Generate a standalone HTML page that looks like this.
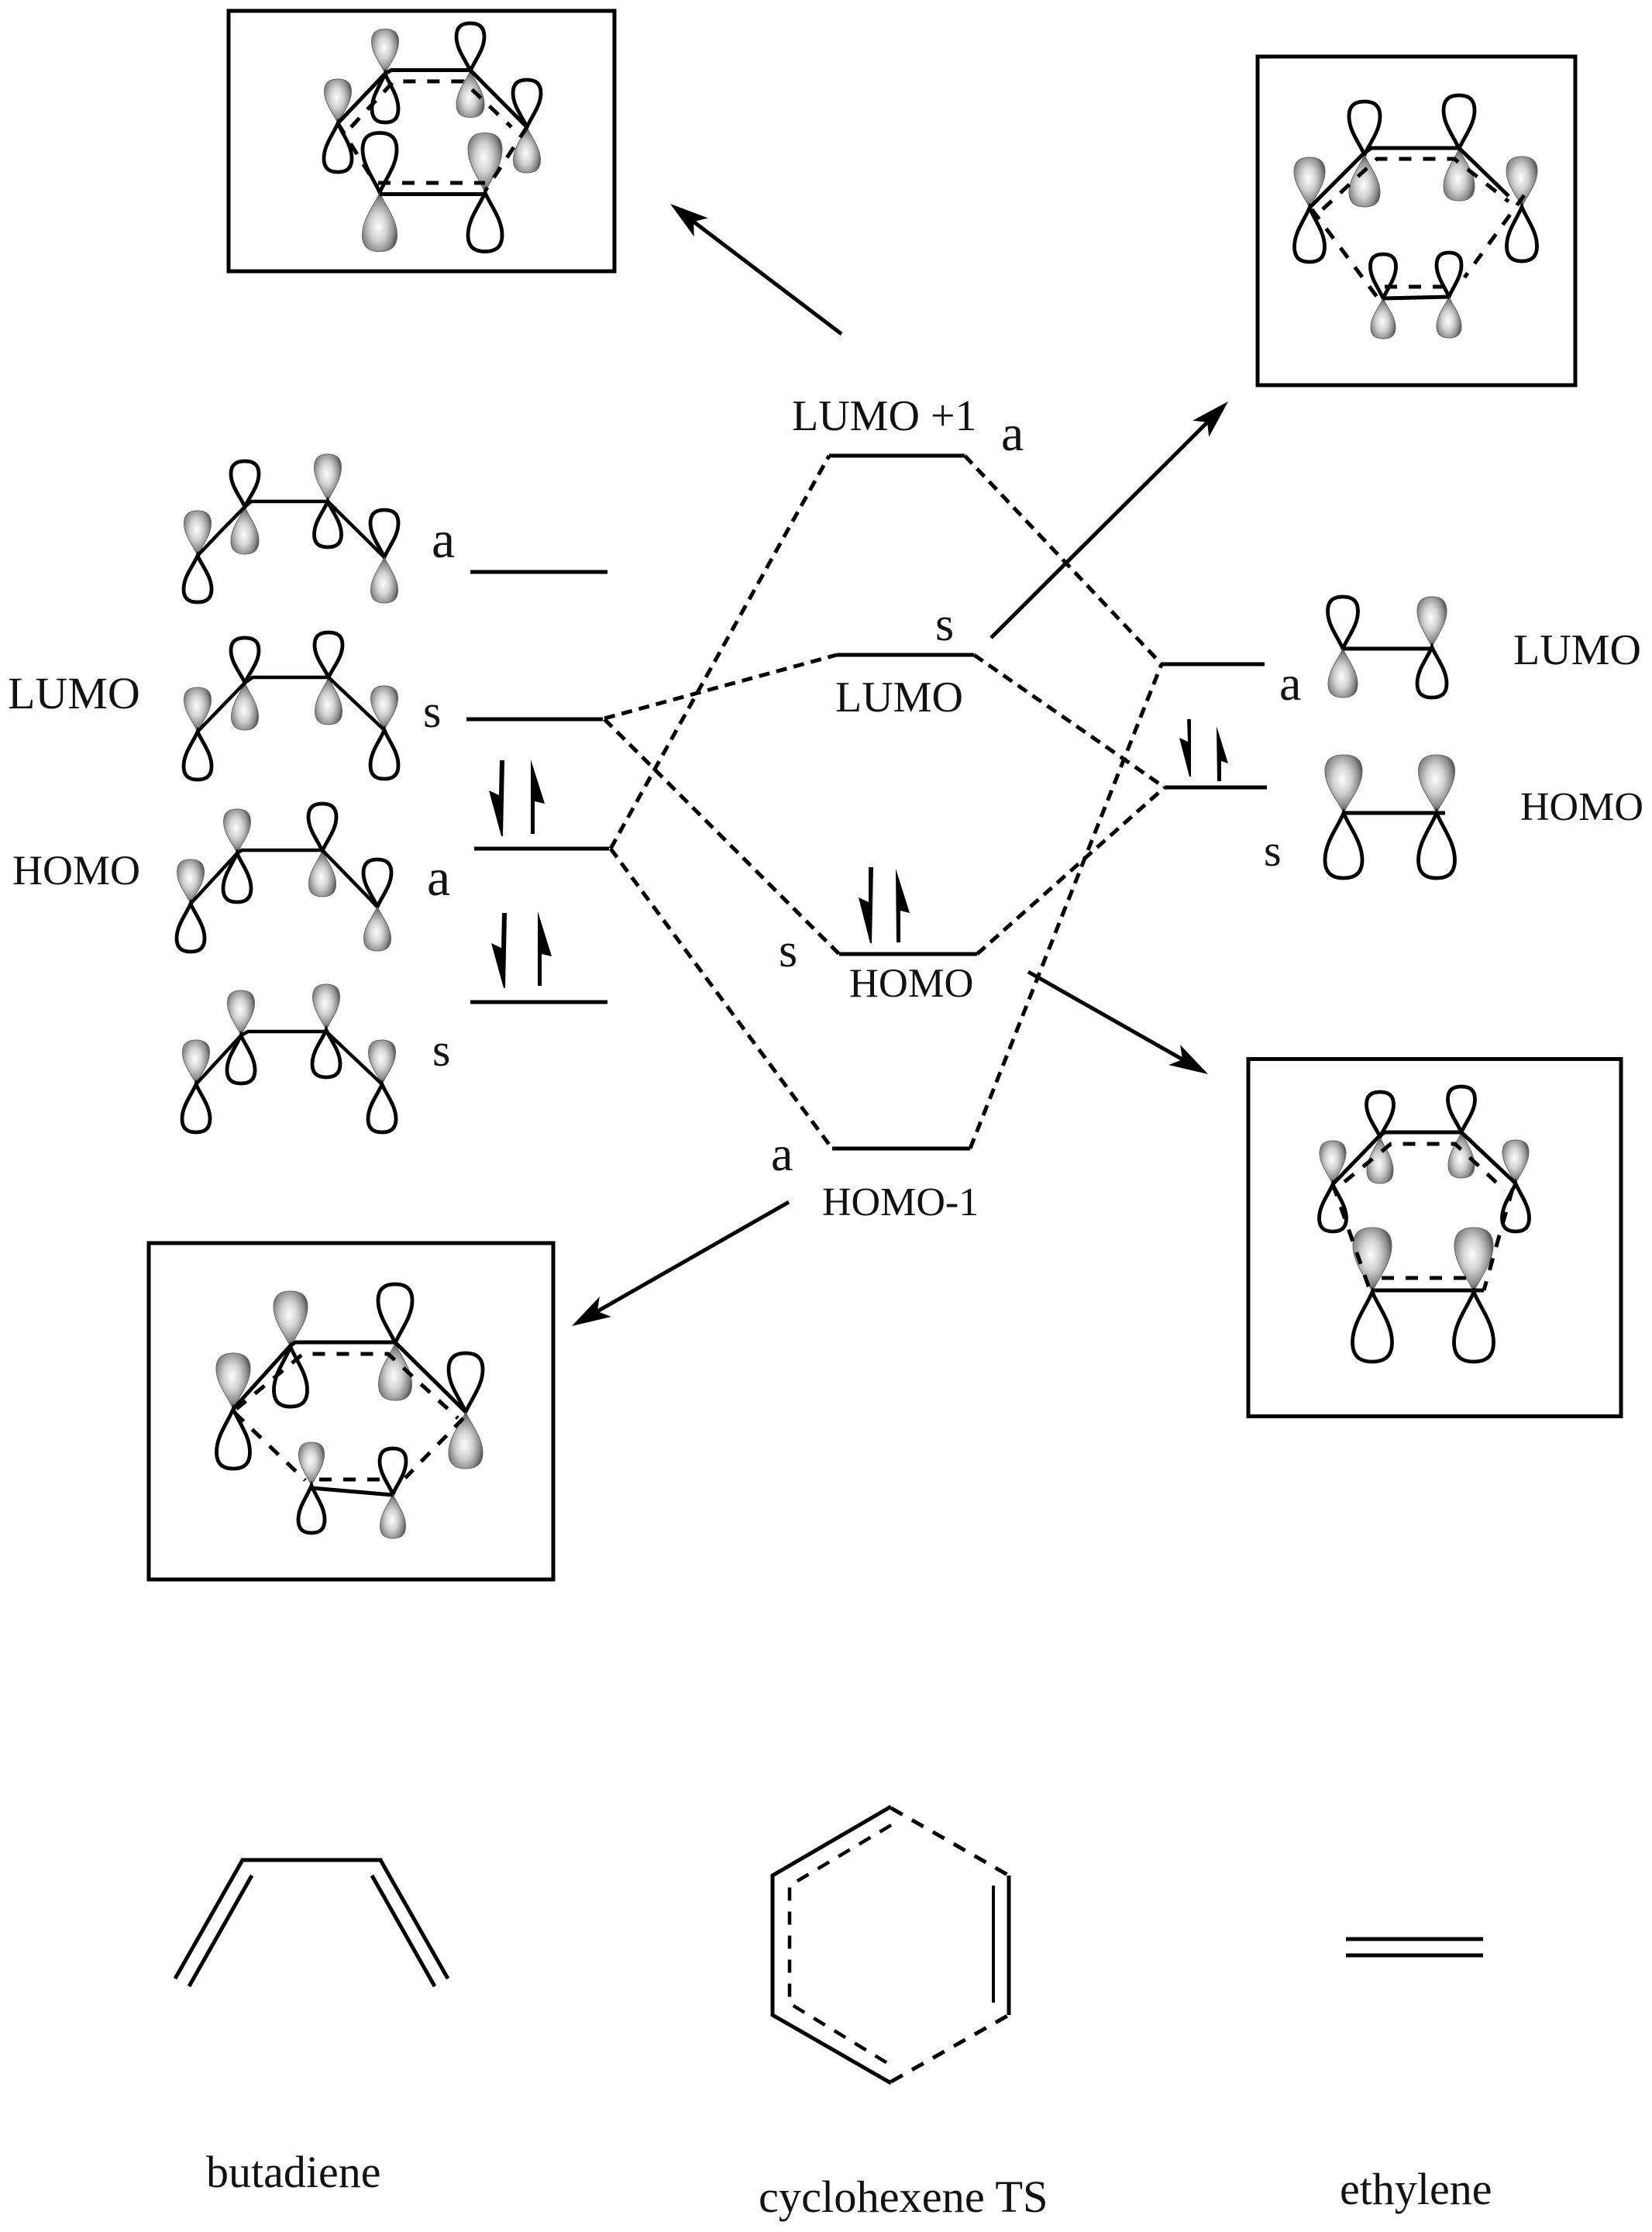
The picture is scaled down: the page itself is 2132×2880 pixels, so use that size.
<!DOCTYPE html>
<html><head><meta charset="utf-8"><title>MO diagram</title>
<style>
html,body{margin:0;padding:0;background:#fff}
svg{display:block}
text{font-family:"Liberation Serif",serif;fill:#111}
.s{fill:none;stroke:#000;stroke-width:5}
.d{fill:none;stroke:#000;stroke-width:5;stroke-dasharray:16 15}
.c{fill:none;stroke:#000;stroke-width:5;stroke-dasharray:14 9}
.lv{fill:none;stroke:#000;stroke-width:5}
</style></head>
<body>
<svg xmlns="http://www.w3.org/2000/svg" width="2132" height="2880" viewBox="0 0 2132 2880">
<defs>
<radialGradient id="g" cx="0.46" cy="0.42" r="0.6">
<stop offset="0" stop-color="#fdfdfd"/><stop offset="0.4" stop-color="#d2d2d2"/><stop offset="0.75" stop-color="#8c8c8c"/><stop offset="1" stop-color="#3c3c3c"/>
</radialGradient>
<path id="f" d="M0,0 C-.16,-.22 -.5,-.45 -.5,-.72 C-.5,-.93 -.3,-1 0,-1 C.3,-1 .5,-.93 .5,-.72 C.5,-.45 .16,-.22 0,0Z" fill="url(#g)" stroke="#666" stroke-width="1" vector-effect="non-scaling-stroke"/>
<path id="o" d="M0,0 C-.16,-.22 -.5,-.45 -.5,-.72 C-.5,-.93 -.3,-1 0,-1 C.3,-1 .5,-.93 .5,-.72 C.5,-.45 .16,-.22 0,0Z" fill="none" stroke="#000" stroke-width="4.8" vector-effect="non-scaling-stroke"/>
</defs>
<rect width="2132" height="2880" fill="#fff"/>

<!-- Box 1: top-left -->
<rect x="295" y="14" width="498" height="336" class="s"/>
<use href="#f" transform="translate(436 159) scale(35 57)"/><use href="#o" transform="translate(436 159) scale(36 -63)"/>
<use href="#f" transform="translate(497 95) scale(35 57.5)"/><use href="#o" transform="translate(497 95) scale(34 -63)"/>
<use href="#o" transform="translate(607 91.5) scale(36 61.5)"/><use href="#f" transform="translate(607 91.5) scale(36 -60)"/>
<use href="#o" transform="translate(680 164) scale(36 61)"/><use href="#f" transform="translate(680 164) scale(35 -59)"/>
<use href="#o" transform="translate(490 248.5) scale(44 77)"/><use href="#f" transform="translate(490 248.5) scale(45 -76)"/>
<use href="#f" transform="translate(626 248.5) scale(44 77)"/><use href="#o" transform="translate(626 248.5) scale(44 -76)"/>
<path class="s" d="M436,159 L497,95 L505,90.5 H607 L680,164 M490,250.5 H626"/>
<path class="d" d="M453,164 L508,105 H598 L660,164 M436,159 L487,241 M488,236 H626 M680,164 L626,246.5"/>

<!-- Box 2: top-right -->
<rect x="1623" y="73" width="410" height="424" class="s"/>
<use href="#f" transform="translate(1690 268) scale(40 65)"/><use href="#o" transform="translate(1690 268) scale(39 -70)"/>
<use href="#o" transform="translate(1761 200) scale(40 69)"/><use href="#f" transform="translate(1761 200) scale(40 -67)"/>
<use href="#o" transform="translate(1883 192) scale(40 69)"/><use href="#f" transform="translate(1883 192) scale(40 -67)"/>
<use href="#f" transform="translate(1964 267) scale(40 65)"/><use href="#o" transform="translate(1964 267) scale(39 -70)"/>
<use href="#o" transform="translate(1785 385) scale(33 57)"/><use href="#f" transform="translate(1785 385) scale(32 -52)"/>
<use href="#o" transform="translate(1870 383) scale(32 57)"/><use href="#f" transform="translate(1870 383) scale(32 -53)"/>
<path class="s" d="M1690,268 L1761,197 L1770,191 H1883 L1947,253 M1785,385 L1870,383"/>
<path class="d" d="M1707,270 L1777,205 H1877 L1947,260 M1967,252 L1890,358 M1693,270 L1777,383 M1787,370 H1863"/>

<!-- Box 3: right-mid -->
<rect x="1611" y="1366.5" width="481" height="461" class="s"/>
<use href="#f" transform="translate(1720 1528) scale(34 56)"/><use href="#o" transform="translate(1720 1528) scale(35 -61)"/>
<use href="#o" transform="translate(1781 1467) scale(35 58)"/><use href="#f" transform="translate(1781 1467) scale(34 -60)"/>
<use href="#o" transform="translate(1886 1461) scale(35 59)"/><use href="#f" transform="translate(1886 1461) scale(34 -59)"/>
<use href="#f" transform="translate(1956 1527) scale(34 56)"/><use href="#o" transform="translate(1956 1527) scale(35 -62)"/>
<use href="#f" transform="translate(1771 1667) scale(50 83)"/><use href="#o" transform="translate(1771 1667) scale(51 -90)"/>
<use href="#f" transform="translate(1902 1667) scale(50 83)"/><use href="#o" transform="translate(1902 1667) scale(51 -90)"/>
<path class="s" d="M1720,1528 L1781,1465 L1787,1461 H1886 L1956,1527 M1771,1665 H1915"/>
<path class="d" d="M1735,1525 L1795,1476 H1878 L1942,1536 M1720,1528 L1768,1665 M1952,1534 L1915,1665 M1783,1649 H1900"/>

<!-- Box 4: bottom-left -->
<rect x="192" y="1604" width="522" height="434" class="s"/>
<use href="#f" transform="translate(301 1818) scale(44 72)"/><use href="#o" transform="translate(301 1818) scale(43 -77)"/>
<use href="#f" transform="translate(375 1738) scale(44 72)"/><use href="#o" transform="translate(375 1738) scale(43 -77)"/>
<use href="#o" transform="translate(510 1733) scale(44 76)"/><use href="#f" transform="translate(510 1733) scale(43 -74)"/>
<use href="#o" transform="translate(601 1822) scale(44 76)"/><use href="#f" transform="translate(601 1822) scale(44 -73)"/>
<use href="#f" transform="translate(402 1917) scale(33 56)"/><use href="#o" transform="translate(402 1917) scale(34 -61)"/>
<use href="#o" transform="translate(507 1928) scale(34 59)"/><use href="#f" transform="translate(507 1928) scale(33 -57)"/>
<path class="s" d="M301,1818 L375,1736 L381,1732 H510 L601,1822 M402,1920 L507,1929"/>
<path class="d" d="M305,1818 L391,1747 H501 L591,1830 M303,1823 L394,1910 M598,1830 L523,1907 M412,1909 H501"/>

<!-- Butadiene orbitals -->
<use href="#f" transform="translate(255 717) scale(35 58)"/><use href="#o" transform="translate(255 717) scale(36 -60)"/>
<use href="#o" transform="translate(316 654) scale(36 59)"/><use href="#f" transform="translate(316 654) scale(36 -61)"/>
<use href="#f" transform="translate(423 647) scale(35 61)"/><use href="#o" transform="translate(423 647) scale(35 -59)"/>
<use href="#o" transform="translate(496 719) scale(36 61)"/><use href="#f" transform="translate(496 719) scale(35 -59)"/>
<path class="s" style="stroke-width:4.5" d="M255,717 Q285,685 316,654 L324,647 H423 L496,719"/>

<use href="#f" transform="translate(255 944) scale(35 57)"/><use href="#o" transform="translate(255 944) scale(36 -62)"/>
<use href="#o" transform="translate(316 881) scale(36 58)"/><use href="#f" transform="translate(316 881) scale(35 -61)"/>
<use href="#o" transform="translate(424 874) scale(36 58)"/><use href="#f" transform="translate(424 874) scale(35 -61)"/>
<use href="#f" transform="translate(496 942) scale(35 57)"/><use href="#o" transform="translate(496 942) scale(36 -63)"/>
<path class="s" style="stroke-width:4.5" d="M255,944 L316,881 L326,874 H424 L496,942"/>

<use href="#f" transform="translate(246 1166) scale(35 57)"/><use href="#o" transform="translate(246 1166) scale(36 -62)"/>
<use href="#f" transform="translate(306 1101) scale(35 57)"/><use href="#o" transform="translate(306 1101) scale(36 -63)"/>
<use href="#o" transform="translate(416 1098) scale(36 61)"/><use href="#f" transform="translate(416 1098) scale(35 -59)"/>
<use href="#o" transform="translate(487 1170) scale(36 61)"/><use href="#f" transform="translate(487 1170) scale(35 -57)"/>
<path class="s" style="stroke-width:4.5" d="M246,1166 L306,1101 L312,1097 H416 L487,1170"/>

<use href="#f" transform="translate(253 1399) scale(35 57)"/><use href="#o" transform="translate(253 1399) scale(36 -62)"/>
<use href="#f" transform="translate(311 1336) scale(35 58)"/><use href="#o" transform="translate(311 1336) scale(36 -62)"/>
<use href="#f" transform="translate(421 1329) scale(35 59)"/><use href="#o" transform="translate(421 1329) scale(36 -61)"/>
<use href="#f" transform="translate(493 1399) scale(35 57)"/><use href="#o" transform="translate(493 1399) scale(36 -62)"/>
<path class="s" style="stroke-width:4.5" d="M253,1399 L311,1336 L320,1331 H421 L493,1399"/>

<!-- Ethylene orbitals -->
<use href="#o" transform="translate(1733 837) scale(39 67)"/><use href="#f" transform="translate(1733 837) scale(38 -63)"/>
<use href="#f" transform="translate(1848 835) scale(38 65)"/><use href="#o" transform="translate(1848 835) scale(38 -65)"/>
<path class="s" d="M1733,837 H1848"/>
<use href="#f" transform="translate(1734 1049) scale(48 75)"/><use href="#o" transform="translate(1734 1049) scale(48 -84)"/>
<use href="#f" transform="translate(1854 1049) scale(47 75)"/><use href="#o" transform="translate(1854 1049) scale(47 -84)"/>
<path class="s" d="M1734,1049 H1865"/>

<!-- Levels -->
<path class="lv" d="M607,738 H784 M602,928 H778 M612,1095 H786 M607,1293 H784 M1070,588 H1245 M1080,845 H1257 M1083,1231 H1261 M1074,1482 H1252 M1499,857 H1632 M1503,1016 H1635"/>

<!-- Correlation connectors -->
<path class="c" d="M780,927 L1080,845"/>
<path class="c" d="M780,928 L1083,1231"/>
<path class="c" d="M788,1095 L1070,588"/>
<path class="c" d="M788,1095 L1074,1482"/>
<path class="c" d="M1245,588 L1499,857"/>
<path class="c" d="M1257,845 L1503,1016"/>
<path class="c" d="M1261,1231 L1503,1016"/>
<path class="c" d="M1252,1482 L1499,857"/>

<!-- Spin arrows -->
<g fill="#000">
<polygon points="645,981 651,981 649,1079 647,1079 631,1020 644,1026"/>
<polygon points="685,1076 690,1076 690,1034 703,1037 685,980"/>
<polygon points="648,1178 654,1178 652,1275 650,1275 634,1217 647,1223"/>
<polygon points="694,1272 699,1272 699,1231 712,1234 694,1176"/>
<polygon points="1121,1119 1127,1119 1125,1217 1123,1217 1108,1158 1121,1164"/>
<polygon points="1157,1216 1162,1216 1162,1175 1174,1178 1156,1121"/>
<polygon points="1532,928 1537,928 1537,1002 1535,1002 1522,952 1533,957"/>
<polygon points="1571,1008 1576,1008 1576,982 1585,985 1570,937"/>
</g>

<!-- Big arrows -->
<path class="s" d="M1086,431 L895,286 M1279,823 L1558,545 M1327,1254 L1526,1367 M1018,1551 L771,1692"/>
<g fill="#000">
<polygon points="865,263 913.9,281.4 895.2,286 895.7,305.2"/>
<polygon points="1585,518 1560.2,563.9 1558.1,544.8 1539,542.7"/>
<polygon points="1559,1386 1508.1,1374.1 1526,1367.1 1523.1,1348.1"/>
<polygon points="738,1711 788.8,1699 770.9,1692 773.8,1673"/>
</g>

<!-- Labels -->
<text x="10" y="914" font-size="58">LUMO</text>
<text x="16" y="1141" font-size="54">HOMO</text>
<text x="557" y="719" font-size="68">a</text>
<text x="546" y="938" font-size="60">s</text>
<text x="551" y="1155" font-size="68">a</text>
<text x="558" y="1375" font-size="60">s</text>
<text x="1022" y="555" font-size="56">LUMO +1</text>
<text x="1292" y="581" font-size="66">a</text>
<text x="1207" y="826" font-size="62">s</text>
<text x="1078" y="918" font-size="56">LUMO</text>
<text x="1005" y="1247" font-size="62">s</text>
<text x="1096" y="1286" font-size="52.5">HOMO</text>
<text x="995" y="1510" font-size="64">a</text>
<text x="1061" y="1568" font-size="52">HOMO-1</text>
<text x="1651" y="903" font-size="64">a</text>
<text x="1953" y="857" font-size="56">LUMO</text>
<text x="1631" y="1117" font-size="58">s</text>
<text x="1962" y="1058" font-size="52">HOMO</text>

<!-- Bottom structures -->
<path class="s" d="M226,2553 L313,2400 H491 L578,2553 M244,2563 L325,2420 M480,2420 L561,2563"/>
<path class="s" d="M1150,2331 L997,2420 V2600 L1150,2688 M1302,2420 V2600"/>
<path class="s" style="stroke-width:4" d="M1282,2433 V2584"/>
<path class="s" style="stroke-dasharray:17 14" d="M1150,2333 L1302,2420 M1150,2686 L1302,2600"/>
<path class="s" style="stroke-width:4.5;stroke-dasharray:17 14" d="M1150,2355 L1019,2433 V2585 L1150,2665"/>
<path class="s" d="M1737,2502 H1914 M1737,2523 H1914"/>

<text x="266" y="2822" font-size="58">butadiene</text>
<text x="979" y="2854" font-size="58.4">cyclohexene TS</text>
<text x="1729" y="2844" font-size="58">ethylene</text>
</svg>
</body></html>
